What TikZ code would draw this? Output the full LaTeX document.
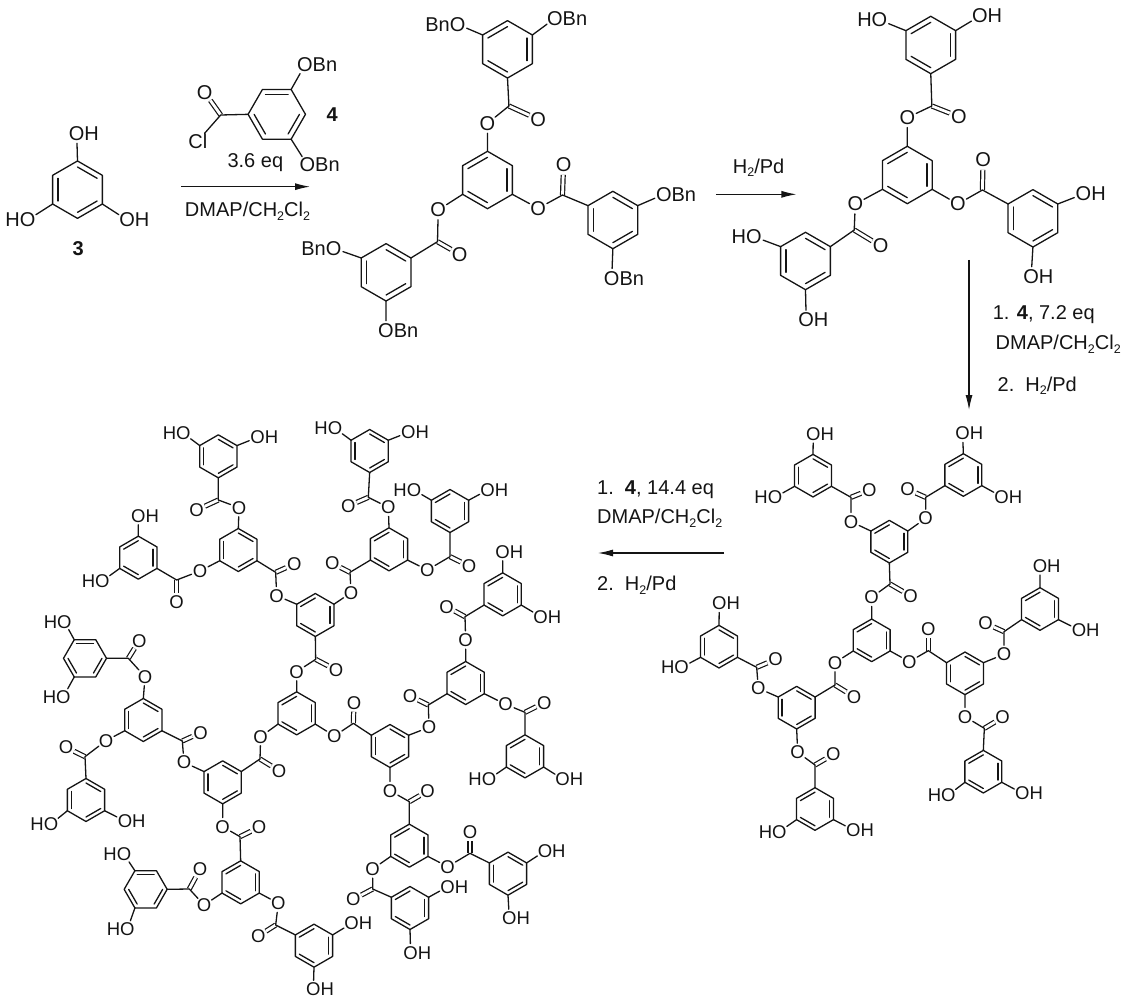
\documentclass[tikz,border=0pt]{standalone}
\usepackage{fontspec}
\setmainfont{Liberation Sans}
\usetikzlibrary{calc,arrows.meta}
\def\fs{20}
\def\rr{28.7}
\def\ox{0}\def\oy{0}\def\sx{3}\def\sy{3}
\newcommand\setzoom[4]{\def\ox{#1}\def\oy{#2}\def\sx{#3}\def\sy{#4}}
\newcommand\place[2]{\pgfmathsetmacro\px{\ox+#1/\sx}\pgfmathsetmacro\py{-\oy-#2/\sy}}
\newcommand\subd{\raisebox{-3.6pt}{\fontsize{12.5}{12.5}\selectfont 2}}
\tikzset{
  bond/.style={line width=1.3pt,line cap=round,line join=round,black!92},
  dbl/.style={line width=1.2pt,double,double distance=2.8pt,black!92},
  atom/.style={circle,inner sep=-0.6pt,font=\fontsize{\fs}{\fs}\selectfont,text=black!92},
  plain/.style={inner sep=0pt,font=\fontsize{\fs}{\fs}\selectfont,text=black!92},
  rxn/.style={line width=1.1pt,black!92,-{Latex[length=15pt,width=7pt]}}
}
% ring: name, x, y, start angle; vertices are named by compass angle
\newcommand\ring[4]{%
  \place{#2}{#3}%
  \coordinate (#1-c) at (\px,\py);
  \foreach \i in {0,...,5}{%
    \pgfmathtruncatemacro\ang{mod(#4-60*\i+720,360)}%
    \coordinate (#1-v\i) at ($(#1-c)+(#4-60*\i:\rr pt)$);
    \coordinate (#1-\ang) at ($(#1-c)+(#4-60*\i:\rr pt)$);
  }
  \draw[bond] (#1-v0) -- (#1-v1) -- (#1-v2) -- (#1-v3) -- (#1-v4) -- (#1-v5) -- cycle;
  \draw[bond] ($(#1-c)!.79!(#1-v0)$) -- ($(#1-c)!.79!(#1-v1)$);
  \draw[bond] ($(#1-c)!.79!(#1-v2)$) -- ($(#1-c)!.79!(#1-v3)$);
  \draw[bond] ($(#1-c)!.79!(#1-v4)$) -- ($(#1-c)!.79!(#1-v5)$);
}
% ester: id, phenol vertex, O, C, =O, benzoyl vertex
\newcommand\ester[9]{%
  \place{#3}{#4}\node[atom] (#1-o) at (\px,\py) {O};
  \place{#5}{#6}\coordinate (#1-k) at (\px,\py);
  \place{#7}{#8}\node[atom] (#1-d) at (\px,\py) {O};
  \draw[dbl] (#1-k) -- (#1-d);
  \draw[bond] (#2) -- (#1-o) -- (#1-k) -- (#9);
}
\newcommand\OH[4]{\place{#2}{#3}\node[atom] (#1) at ({\px-.361*\fs},\py) {O\rlap{H}}; \draw[bond] (#4) -- (#1);}
\newcommand\HO[4]{\place{#2}{#3}\node[atom] (#1) at ({\px+.361*\fs},\py) {\llap{H}O}; \draw[bond] (#4) -- (#1);}
\newcommand\OBn[4]{\place{#2}{#3}\node[atom] (#1) at ({\px-.61*\fs},\py) {O\rlap{Bn}}; \draw[bond] (#4) -- (#1);}
\newcommand\BnO[4]{\place{#2}{#3}\node[atom] (#1) at ({\px+.61*\fs},\py) {\llap{Bn}O}; \draw[bond] (#4) -- (#1);}
\begin{document}
\begin{tikzpicture}[x=1pt,y=1pt]
\useasboundingbox (0,0) rectangle (1125,-1000);
%%% top row
\setzoom{0}{0}{2.8}{3}
\ring{a}{217}{569}{90}
\OH{a1}{235}{400}{a-90}
\HO{a2}{57}{660}{a-210}
\OH{a3}{376}{660}{a-330}
\place{219}{745}\node[plain,font=\fontsize{\fs}{\fs}\selectfont\bfseries] (n3) at (\px,\py) {3};
% reagent 4
\ring{b}{775}{343}{120}
\OBn{b1}{888}{195}{b-60}
\OBn{b2}{895}{495}{b-300}
\place{618}{345}\coordinate (bk) at (\px,\py);
\place{573}{277}\node[atom] (bo) at (\px,\py) {O};
\place{554}{423}\node[plain] (bcl) at (\px,\py) {Cl};
\draw[dbl] (bk) -- (bo);
\draw[bond] (bcl) -- (bk) -- (b-180);
\place{930}{345}\node[plain,font=\fontsize{\fs}{\fs}\selectfont\bfseries] (n4) at (\px,\py) {4};
\place{715}{487}\node[plain] (t36) at (\px,\py) {3.6 eq};
\place{507}{560}\coordinate (ar1a) at (\px,\py);
\place{868}{560}\coordinate (ar1b) at (\px,\py);
\draw[rxn] (ar1a) -- (ar1b);
\place{693}{633}\node[plain] (t1) at (\px,\py) {DMAP/CH\subd Cl\subd};
% BnO compound
\ring{c}{1365}{540}{30}
\ring{ct}{1421}{148}{30}
\ring{cl}{1081}{817}{90}
\ring{cr}{1716}{660}{90}
\ester{ce1}{c-90}{1365}{370}{1425}{318}{1507}{358}{ct-270}
\ester{ce2}{c-210}{1227}{630}{1225}{725}{1287}{763}{cl-30}
\ester{ce3}{c-330}{1507}{625}{1575}{585}{1578}{495}{cr-150}
\BnO{c1}{1247}{73}{ct-150}
\OBn{c2}{1588}{55}{ct-30}
\BnO{c3}{900}{745}{cl-150}
\OBn{c4}{1115}{992}{cl-270}
\OBn{c5}{1893}{583}{cr-30}
\OBn{c6}{1747}{835}{cr-270}
%%% HO compound
\setzoom{560}{0}{2.77}{3}
\ring{d}{962}{525}{30}
\ring{dt}{1027}{135}{30}
\ring{dl}{680}{783}{90}
\ring{dr}{1310}{655}{90}
\ester{de1}{d-90}{962}{353}{1030}{318}{1105}{350}{dt-270}
\ester{de2}{d-210}{818}{612}{815}{690}{888}{738}{dl-30}
\ester{de3}{d-330}{1102}{612}{1170}{570}{1172}{480}{dr-150}
\HO{d1}{865}{60}{dt-150}
\OH{d2}{1183}{48}{dt-30}
\HO{d3}{517}{710}{dl-150}
\OH{d4}{702}{960}{dl-270}
\OH{d5}{1470}{582}{dr-30}
\OH{d6}{1325}{830}{dr-270}
\place{550}{503}\node[plain] (t2) at (\px,\py) {H\subd/Pd};
\place{432}{583}\coordinate (ar2a) at (\px,\py);
\place{655}{583}\coordinate (ar2b) at (\px,\py);
\draw[rxn] (ar2a) -- (ar2b);
\place{1133}{780}\coordinate (ar3a) at (\px,\py);
\place{1133}{1230}\coordinate (ar3b) at (\px,\py);
\draw[rxn] (ar3a) -- (ar3b);
\place{1340}{945}\node[plain] (t3) at (\px,\py) {1. \textbf{4}, 7.2 eq};
\place{1380}{1033}\node[plain] (t4) at (\px,\py) {DMAP/CH\subd Cl\subd};
\place{1322}{1157}\node[plain] (t5) at (\px,\py) {2.\ \ H\subd/Pd};
%%% generation 1
\def\fs{18.5}\def\rr{21.3}
\setzoom{640}{410}{3}{3}
\ring{g}{695}{691}{30}
\ring{gt}{748}{395}{30}
\ring{gtl}{519}{197}{90}
\ring{gtr}{970}{195}{30}
\ring{gr}{975}{790}{90}
\ring{gru}{1200}{597}{30}
\ring{grd}{1030}{1085}{30}
\ring{gl}{470}{893}{90}
\ring{glu}{237}{710}{90}
\ring{gld}{525}{1197}{30}
\ester{ge1}{g-90}{695}{562}{750}{522}{812}{558}{gt-270}
\ester{ge2}{gt-150}{633}{335}{633}{262}{688}{240}{gtl-330}
\ester{ge3}{gt-30}{857}{325}{857}{262}{803}{238}{gtr-210}
\ester{ge4}{g-330}{808}{755}{865}{722}{865}{657}{gr-150}
\ester{ge5}{gr-30}{1092}{733}{1092}{665}{1037}{640}{gru-210}
\ester{ge6}{gr-270}{975}{920}{1033}{955}{1088}{922}{grd-90}
\ester{ge7}{g-210}{585}{758}{585}{825}{642}{860}{gl-30}
\ester{ge8}{gl-150}{355}{835}{350}{772}{407}{748}{glu-330}
\ester{ge9}{gl-270}{473}{1027}{525}{1065}{580}{1033}{gld-90}
\OH{g1}{540}{72}{gtl-90}
\HO{g2}{385}{262}{gtl-210}
\OH{g3}{988}{70}{gtr-90}
\OH{g4}{1105}{260}{gtr-330}
\OH{g5}{1220}{468}{gru-90}
\OH{g6}{1337}{660}{gru-330}
\HO{g7}{905}{1155}{grd-210}
\OH{g8}{1167}{1150}{grd-330}
\OH{g9}{258}{580}{glu-90}
\HO{g10}{105}{772}{glu-210}
\HO{g11}{398}{1265}{gld-210}
\OH{g12}{660}{1260}{gld-330}
% left arrow and its text
\def\fs{20}
\setzoom{0}{0}{1}{1}
\coordinate (ar4a) at (724,-553);
\coordinate (ar4b) at (598,-553);
\draw[rxn] (ar4a) -- (ar4b);
\node[plain,anchor=west] (t6) at (597,-490) {1.\ \ \textbf{4}, 14.4 eq};
\node[plain,anchor=west] (t7) at (597,-518) {DMAP/CH\subd Cl\subd};
\node[plain,anchor=west] (t8) at (597,-585) {2.\ \ H\subd/Pd};
%%% generation 2
\def\fs{18.5}\def\rr{21.5}
\setzoom{30}{410}{3}{3}
\ring{t1}{565}{139}{90}
\ring{a1x}{625}{420}{90}
\ring{t2}{325}{443}{30}
\ring{t7}{165}{745}{120}
\HO{h1}{440}{70}{t1-150}
\OH{h2}{703}{82}{t1-30}
\OH{h3}{345}{317}{t2-90}
\HO{h4}{197}{513}{t2-210}
\HO{h5}{83}{635}{t7-120}
\HO{h6}{80}{860}{t7-240}
\setzoom{300}{410}{3}{3}
\ring{g1x}{46}{615}{30}
\ring{t3}{209}{123}{90}
\ring{a2x}{267}{418}{30}
\ring{t4}{450}{303}{30}
\ring{t5}{608}{553}{30}
\ring{a3x}{497}{819}{30}
\HO{h7}{85}{55}{t3-150}
\OH{h8}{345}{67}{t3-30}
\HO{h9}{322}{240}{t4-150}
\OH{h10}{583}{240}{t4-30}
\OH{h11}{628}{425}{t5-90}
\OH{h12}{742}{620}{t5-330}
\ester{x3}{a2x-90}{265}{292}{205}{262}{145}{288}{t3-270}
\ester{x4}{a2x-330}{382}{480}{450}{440}{507}{468}{t4-270}
\ester{x5}{g1x-30}{153}{548}{150}{487}{97}{460}{a2x-210}
\ester{x6}{a3x-90}{497}{690}{495}{620}{440}{590}{t5-210}
\setzoom{30}{410}{3}{3}
\ester{x1}{a1x-90}{627}{293}{565}{270}{500}{300}{t1-270}
\ester{x2}{a1x-210}{510}{483}{440}{510}{440}{577}{t2-330}
\ester{x7}{g1x-150}{740}{557}{737}{487}{793}{462}{a1x-330}
\setzoom{30}{690}{3}{3}
\ring{core}{800}{70}{30}
\ring{g3x}{578}{277}{90}
\ring{a4x}{340}{90}{90}
\ring{t8}{168}{330}{90}
\ring{a5x}{632}{577}{30}
\ring{t9}{347}{598}{120}
\ring{t10}{852}{767}{30}
\HO{h13}{43}{402}{t8-210}
\OH{h14}{305}{393}{t8-330}
\HO{h15}{262}{493}{t9-120}
\HO{h16}{272}{718}{t9-240}
\OH{h17}{870}{898}{t10-270}
\ester{x8}{core-210}{692}{140}{690}{207}{747}{242}{g3x-30}
\ester{x9}{g3x-150}{462}{217}{457}{153}{512}{128}{a4x-330}
\ester{x10}{a4x-210}{228}{152}{165}{200}{108}{172}{t8-90}
\ester{x12}{g3x-270}{578}{410}{630}{440}{687}{412}{a5x-90}
\ester{x13}{a5x-210}{522}{645}{478}{597}{510}{538}{t9-0}
\ester{x14}{a5x-330}{745}{640}{737}{705}{685}{738}{t10-150}
\setzoom{30}{410}{3}{3}
\ester{x15}{core-90}{800}{785}{857}{748}{918}{780}{g1x-270}
\ester{x11}{a4x-90}{345}{800}{295}{745}{328}{692}{t7-0}
\setzoom{300}{690}{3}{3}
\ring{t6}{675}{199}{30}
\ring{g2x}{270}{168}{90}
\ring{a6x}{328}{467}{30}
\ring{t11}{330}{654}{30}
\ring{t12}{624}{551}{90}
\HO{h18}{547}{267}{t6-210}
\OH{h19}{808}{267}{t6-330}
\OH{h20}{175}{700}{t10-30}
\OH{h21}{463}{590}{t11-30}
\OH{h22}{352}{788}{t11-270}
\OH{h23}{755}{483}{t12-30}
\OH{h24}{648}{685}{t12-270}
\ester{x16}{a3x-330}{617}{43}{675}{67}{733}{38}{t6-90}
\ester{x17}{g2x-30}{387}{112}{385}{45}{330}{18}{a3x-210}
\ester{x18}{core-330}{103}{138}{160}{100}{162}{38}{g2x-150}
\ester{x19}{g2x-270}{270}{302}{328}{335}{383}{303}{a6x-90}
\ester{x20}{a6x-210}{218}{537}{218}{597}{160}{628}{t11-150}
\ester{x21}{a6x-330}{443}{530}{510}{490}{510}{427}{t12-150}
\end{tikzpicture}
\end{document}
